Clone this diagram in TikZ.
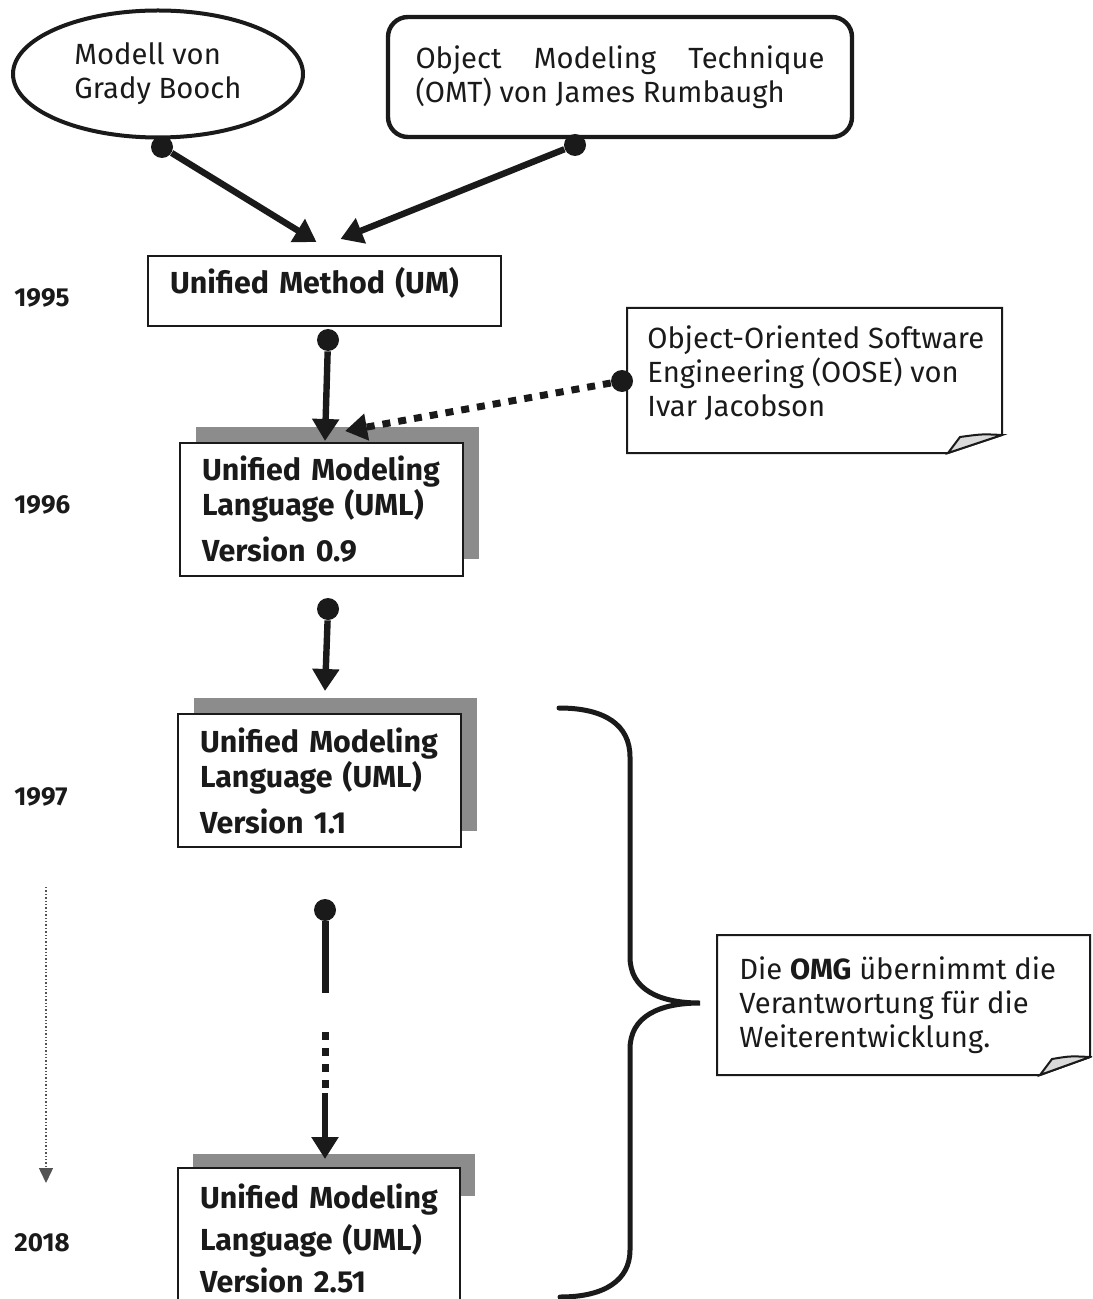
\documentclass[tikz,border=0pt]{standalone}
\usepackage{fontspec}
\setmainfont{Fira Sans}
\usetikzlibrary{arrows.meta,shapes.geometric}

\definecolor{ink}{HTML}{1A1A1A}
\definecolor{shadowgray}{HTML}{8C8C8C}
\definecolor{flapgray}{HTML}{DADADA}

\tikzstyle{every node}=[font=\fontsize{14.6}{17}\selectfont, inner sep=0pt, text=ink]
\tikzstyle{source}=[draw=ink, line width=2pt]
\tikzstyle{umlbox}=[draw=ink, fill=white, line width=1pt, inner xsep=11pt, align=left, font=\fontsize{15.2}{17.5}\selectfont\bfseries]
\tikzstyle{year}=[anchor=west, font=\fontsize{13}{15}\selectfont\bfseries]
\tikzstyle{dot}=[circle, fill=ink, minimum size=11pt]
\tikzstyle{flow}=[draw=ink, line width=3.2pt, -{Triangle[length=11pt,width=13pt]}]
\tikzstyle{flowline}=[draw=ink, line width=3.5pt]
\tikzstyle{squares}=[draw=ink, line width=3.5pt, dash pattern=on 4pt off 4pt]
\tikzstyle{timeline}=[draw=ink!75, line width=0.7pt, dash pattern=on 0.7pt off 1pt, -{Triangle[length=7.5pt,width=7pt]}]
\tikzstyle{notetext}=[align=left, anchor=north west]
\tikzstyle{notefr}=[draw=ink, line width=1pt, fill=white]

% note sheet with a turned-up corner: x1, y1, x2, y2, fold
\newcommand{\notepaper}[5]{%
  \draw[notefr] (#1,#2) -- (#3,#2) -- (#3,#4-18) -- (#3-#5,#4) -- (#1,#4) -- cycle;
  \filldraw[notefr, fill=flapgray] (#3-#5,#4) -- (#3-#5+12,#4-16)
    .. controls (#3-20,#4-19) .. (#3,#4-18) -- cycle;}

\begin{document}
\begin{tikzpicture}[x=0.5pt, y=-0.5pt]
  \useasboundingbox (0,0) rectangle (1092,1299);
  \clip (0,0) rectangle (1092,1299);

  % sources
  \node[source, ellipse, minimum width=145pt, minimum height=63.5pt, align=left] (booch) at (158,74)
    {Modell von\\Grady Booch};
  \node[source, rounded corners=10pt, line width=2.2pt, minimum width=232pt, minimum height=60pt, align=left] (omt) at (620,77)
    {\makebox[204.5pt][s]{Object Modeling Technique}\\(OMT) von James Rumbaugh};

  % versions
  \node[umlbox, minimum height=35pt, text width=154.5pt, text height=10.5pt, text depth=8.5pt] (um) at (324.5,291)
    {Unified Method (UM)};

  \fill[shadowgray] (196,427) rectangle (479,559);
  \node[umlbox, minimum height=66.5pt, text width=119.5pt] (v09) at (321.5,509.5)
    {Unified Modeling\\Language (UML)\\[5.5pt]Version 0.9};

  \fill[shadowgray] (194,698) rectangle (477,831);
  \node[umlbox, minimum height=66.5pt, text width=119.5pt] (v11) at (319.5,780.5)
    {Unified Modeling\\Language (UML)\\[5.5pt]Version 1.1};

  \fill[shadowgray] (193,1154) rectangle (475,1196);
  \node[umlbox, minimum height=70pt, text width=119pt] (v251) at (319,1238)
    {Unified Modeling\\[3.5pt]Language (UML)\\[3.5pt]Version 2.51};

  \node[year] (y1995) at (14,298) {1995};
  \node[year] (y1996) at (14,505) {1996};
  \node[year] (y1997) at (14,797) {1997};
  \node[year] (y2018) at (14,1243) {2018};

  % notes
  \notepaper{627}{308}{1002}{453}{54}
  \node[notetext] (oose) at (647,325)
    {Object-Oriented Software\\Engineering (OOSE) von\\Ivar Jacobson};
  \notepaper{717}{935}{1090}{1075}{50}
  \node[notetext] (omg) at (739,956)
    {Die \textbf{OMG} übernimmt die\\Verantwortung für die\\Weiterentwicklung.};

  % connectors
  \node[dot] (d1) at (162,147) {};
  \node[dot] (d2) at (575,145) {};
  \node[dot] (d3) at (328,340) {};
  \node[dot] (d4) at (622,381) {};
  \node[dot] (d5) at (328,609) {};
  \node[dot] (d6) at (325,910) {};

  \draw[flow] (d1) -- ([shift={(-8,-13)}]um.north);
  \draw[flow] (d2) -- ([shift={(16,-16)}]um.north);
  \draw[flow] (d3) -- ([shift={(3.5,-1)}]v09.north);
  \draw[flow, line width=3.5pt, dash pattern=on 4pt off 4pt] (d4) -- ([shift={(23.5,-11)}]v09.north);
  \draw[flow] (d5) -- ([shift={(5.5,-22)}]v11.north);

  \coordinate (brkA) at (325,993);
  \coordinate (brkB) at (325,1032);
  \coordinate (brkC) at (325,1088);
  \coordinate (brkD) at (325,1093);
  \draw[flowline] (d6) -- (brkA);
  \draw[squares] (brkB) -- (brkC);
  \draw[flow] (brkD) -- ([shift={(6,-8)}]v251.north);

  % time axis
  \coordinate (tltop) at (46,887);
  \coordinate (tlend) at (46,1183);
  \draw[timeline] (tltop) -- (tlend);

  % brace
  \draw[ink, line width=2.5pt, line cap=round] (559,708) .. controls (605,708) and (630,725) .. (630,757)
    -- (630,957) .. controls (630,990) and (660,1003) .. (700,1003)
    .. controls (660,1003) and (630,1016) .. (630,1049)
    -- (630,1250) .. controls (630,1280) and (605,1297) .. (560,1297);
\end{tikzpicture}
\end{document}
